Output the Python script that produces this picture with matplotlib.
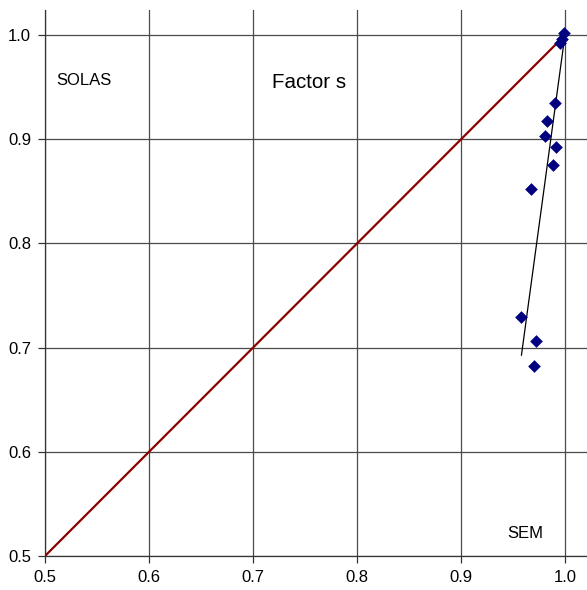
import numpy as np
import matplotlib.pyplot as plt

plt.rcParams['font.family'] = ['Liberation Sans', 'DejaVu Sans']

# SEM (x) vs SOLAS (y) values of factor s
sem = [0.999, 0.995, 0.997, 0.990, 0.983, 0.981, 0.991, 0.988, 0.967, 0.958, 0.972, 0.970]
solas = [1.002, 0.992, 0.996, 0.935, 0.917, 0.903, 0.893, 0.875, 0.852, 0.729, 0.706, 0.682]
ticks = [0.5, 0.6, 0.7, 0.8, 0.9, 1.0]

fig = plt.figure(figsize=(5.87, 5.90), dpi=100)
ax = fig.add_axes([45 / 587, 34 / 590, 542 / 587, 546 / 590])

ax.set_xlim(0.5, 1.021)
ax.set_ylim(0.5, 1.024)

ax.set_xticks(ticks)
ax.set_yticks(ticks)
ax.set_xticklabels(['%.1f' % t for t in ticks])
ax.set_yticklabels(['%.1f' % t for t in ticks])
ax.grid(True, color='#4a4a4a', linewidth=0.9)
ax.set_axisbelow(True)
ax.tick_params(labelsize=12, length=5, width=0.9, color='#333333', pad=5)

for side in ['top', 'right']:
    ax.spines[side].set_visible(False)
for side in ['left', 'bottom']:
    ax.spines[side].set_color('#333333')
    ax.spines[side].set_linewidth(0.9)

# 1:1 line
ax.plot([0.5, 1.0], [0.5, 1.0], color='#8B0000', linewidth=1.6, zorder=3)

# linear trend line
x = np.array(sem)
y = np.array(solas)
k, b = np.polyfit(x, y, 1)
xs = np.array([x.min(), x.max()])
ax.plot(xs, k * xs + b, color='black', linewidth=0.9, zorder=4)

ax.scatter(sem, solas, marker='D', s=42, color='#000080', zorder=5, linewidths=0)

ax.text(0.511, 0.956, 'SOLAS', fontsize=12, va='center', ha='left')
ax.text(0.718, 0.954, 'Factor s', fontsize=14.8, va='center', ha='left')
ax.text(0.944, 0.522, 'SEM', fontsize=12, va='center', ha='left')

fig.savefig('out.png', dpi=100)
